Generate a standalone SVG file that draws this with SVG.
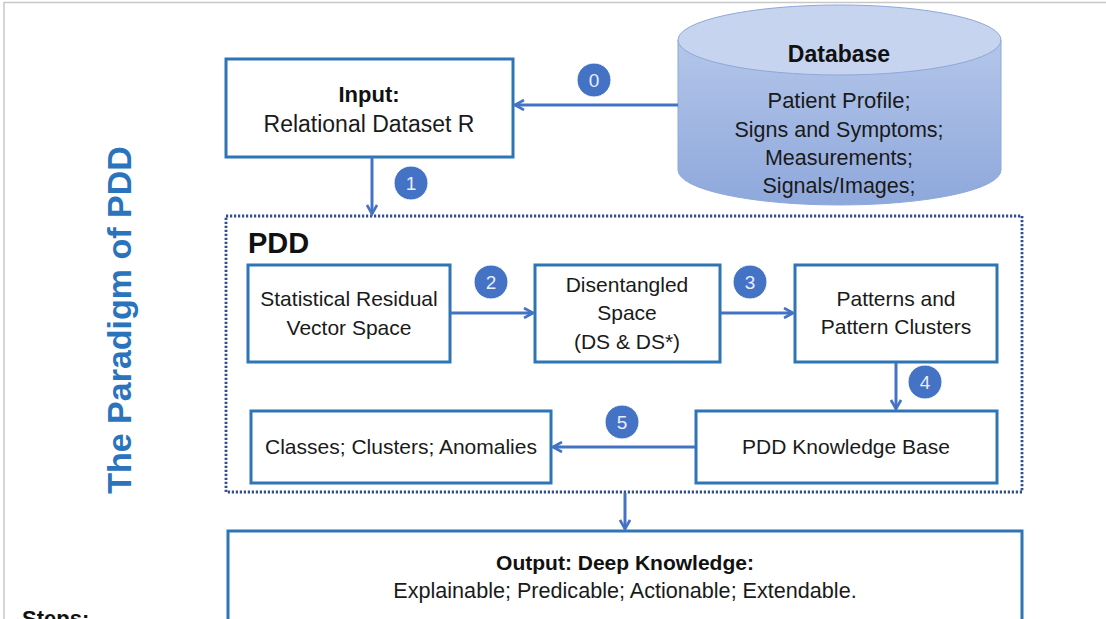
<svg xmlns="http://www.w3.org/2000/svg" width="1106" height="619" viewBox="0 0 1106 619">
<defs>
<linearGradient id="cylBody" x1="0" y1="0" x2="0" y2="1">
<stop offset="0" stop-color="#b4c6e9"/>
<stop offset="1" stop-color="#8ea8dc"/>
</linearGradient>
<marker id="arr" viewBox="0 0 12 12" refX="10" refY="6" markerWidth="12" markerHeight="12" markerUnits="userSpaceOnUse" orient="auto">
<path d="M1,1 L10,6 L1,11" fill="none" stroke="#4472c4" stroke-width="2.6"/>
</marker>
</defs>
<style>
.box{fill:#ffffff;stroke:#2e75b6;stroke-width:3}
.t{font-family:"Liberation Sans",Arial,sans-serif;font-size:21px;fill:#1a1a1a;text-anchor:middle}
.tb{font-family:"Liberation Sans",Arial,sans-serif;font-weight:bold;fill:#111;text-anchor:middle}
.conn{fill:none;stroke:#4472c4;stroke-width:3;marker-end:url(#arr)}
.badge circle{fill:#4472c4;stroke:#ffffff;stroke-width:1}
.badge text{font-family:"Liberation Sans",Arial,sans-serif;font-size:19px;fill:#e8eef9;text-anchor:middle}
</style>
<rect width="1106" height="619" fill="#ffffff"/>
<path d="M4,619 L4,2.5 L1106,2.5" fill="none" stroke="#c8c8c8" stroke-width="1.5"/>

<text x="0" y="0" transform="translate(131,320) rotate(-90)" font-family="Liberation Sans,Arial,sans-serif" font-weight="bold" font-size="34" fill="#2a74bd" text-anchor="middle">The Paradigm of PDD</text>

<g id="pdd-frame">
<rect x="226" y="216" width="796" height="276" fill="none" stroke="#2f4f8f" stroke-width="2.8" stroke-dasharray="2.2,1.8"/>
<text x="248" y="253" font-family="Liberation Sans,Arial,sans-serif" font-weight="bold" font-size="29" fill="#111">PDD</text>
</g>

<g id="input">
<rect class="box" x="226" y="59" width="287" height="98"/>
<text class="tb" x="369" y="102" style="font-size:22px">Input:</text>
<text class="t" x="369" y="132" style="font-size:23px">Relational Dataset R</text>
</g>

<g id="database">
<path d="M678,40 L678,170 A161.5,35 0 0 0 1001,170 L1001,40 Z" fill="url(#cylBody)" stroke="#8ea8dc" stroke-width="1"/>
<ellipse cx="839.5" cy="40" rx="161.5" ry="35" fill="#c6d4ef" stroke="#8ea8dc" stroke-width="1"/>
<text class="tb" x="839" y="62" style="font-size:23px">Database</text>
<text class="t" x="839" y="108" style="font-size:22px">Patient Profile;</text>
<text class="t" x="839" y="137" style="font-size:21.5px">Signs and Symptoms;</text>
<text class="t" x="839" y="165" style="font-size:21.5px">Measurements;</text>
<text class="t" x="839" y="193" style="font-size:21.5px">Signals/Images;</text>
</g>

<g id="srvs">
<rect class="box" x="248" y="265" width="202" height="97"/>
<text class="t" x="349" y="306">Statistical Residual</text>
<text class="t" x="349" y="335">Vector Space</text>
</g>

<g id="ds">
<rect class="box" x="535" y="265" width="185" height="97"/>
<text class="t" x="627" y="292">Disentangled</text>
<text class="t" x="627" y="320">Space</text>
<text class="t" x="627" y="349">(DS &amp; DS*)</text>
</g>

<g id="patterns">
<rect class="box" x="795" y="265" width="202" height="97"/>
<text class="t" x="896" y="306">Patterns and</text>
<text class="t" x="896" y="334">Pattern Clusters</text>
</g>

<g id="kb">
<rect class="box" x="696" y="411" width="301" height="72"/>
<text class="t" x="846" y="454">PDD Knowledge Base</text>
</g>

<g id="classes">
<rect class="box" x="251" y="411" width="300" height="72"/>
<text class="t" x="401" y="454">Classes; Clusters; Anomalies</text>
</g>

<g id="output">
<rect class="box" x="228" y="531" width="794" height="92"/>
<text class="tb" x="625" y="570" style="font-size:21px">Output: Deep Knowledge:</text>
<text class="t" x="625" y="598" style="font-size:21.6px">Explainable; Predicable; Actionable; Extendable.</text>
</g>

<text x="22" y="626" font-family="Liberation Sans,Arial,sans-serif" font-weight="bold" font-size="22" fill="#111">Steps:</text>

<g id="connectors">
<path class="conn" d="M678,105 L515,105"/>
<path class="conn" d="M372,157 L372,214"/>
<path class="conn" d="M451,313 L533,313"/>
<path class="conn" d="M721,313 L793,313"/>
<path class="conn" d="M896,363 L896,409"/>
<path class="conn" d="M695,447 L553,447"/>
<path class="conn" d="M625,493 L625,529"/>
</g>

<g id="badges">
<g class="badge"><circle cx="594" cy="80" r="17"/><text x="594" y="87">0</text></g>
<g class="badge"><circle cx="411" cy="183" r="17"/><text x="411" y="190">1</text></g>
<g class="badge"><circle cx="491" cy="282" r="17"/><text x="491" y="289">2</text></g>
<g class="badge"><circle cx="750" cy="282" r="17"/><text x="750" y="289">3</text></g>
<g class="badge"><circle cx="925" cy="382" r="17"/><text x="925" y="389">4</text></g>
<g class="badge"><circle cx="622" cy="422" r="17"/><text x="622" y="429">5</text></g>
</g>
</svg>
